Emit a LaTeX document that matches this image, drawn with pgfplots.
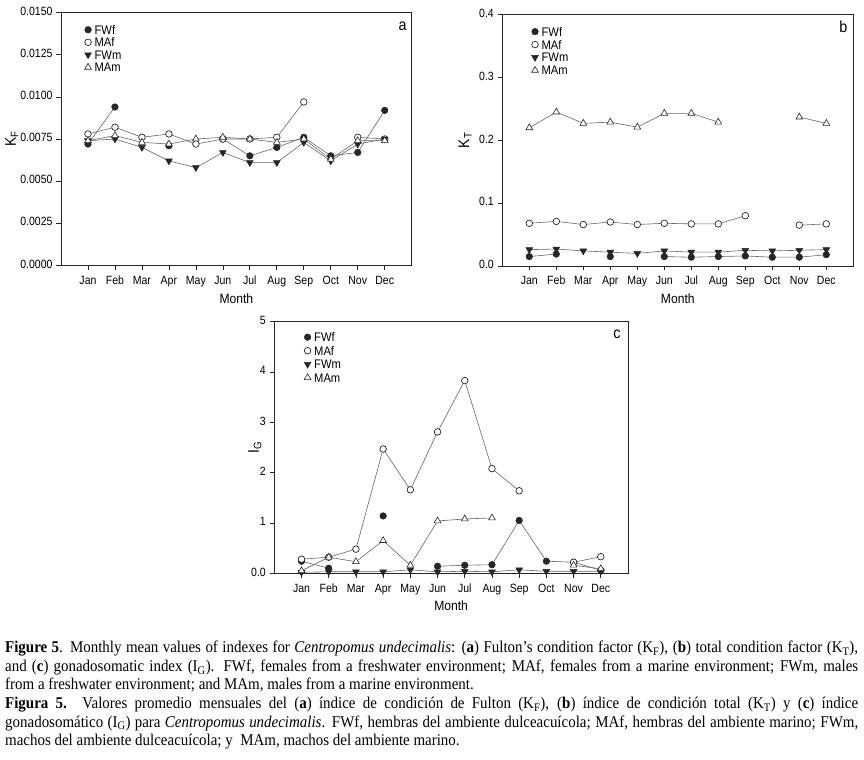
\documentclass[border=0pt]{standalone}
\usepackage{fontspec}
\setmainfont{Liberation Sans}
\newfontfamily\tickfamily{Liberation Sans}[FakeStretch=0.88]
\newfontfamily\labfamily{Liberation Sans}[FakeStretch=0.9]
\newfontfamily\capfamily{Liberation Serif}[FakeStretch=0.91]
\usepackage{pgfplots}
\pgfplotsset{compat=1.18}
\newcommand\tickfont{\tickfamily\fontsize{12}{14}\selectfont}
\newcommand\legfont{\labfamily\fontsize{12.5}{13}\selectfont}
\newcommand\labfont{\labfamily\fontsize{13.5}{15}\selectfont}
\newcommand\ylabfont{\labfamily\fontsize{15.5}{17}\selectfont}
\newcommand\panfont{\labfamily\fontsize{16}{18}\selectfont}
\pgfplotsset{
  panel/.style={
    scale only axis, anchor=south west,
    xmin=0, xmax=13,
    xtick={1,...,12},
    xticklabels={Jan,Feb,Mar,Apr,May,Jun,Jul,Aug,Sep,Oct,Nov,Dec},
    tick align=outside, tick pos=left,
    major tick length=4.5bp,
    axis line style={line width=0.8bp, black!85},
    tick style={line width=0.7bp, black!85},
    ticklabel style={font=\tickfont},
    typeset ticklabels with strut,
    xticklabel style={yshift=-1bp},
    yticklabel style={xshift=-0.5bp},
    unbounded coords=jump,
    xlabel={Month},
    xlabel style={font=\labfont, at={(axis description cs:0.5,0)}, anchor=center, yshift=-33bp},
    ylabel style={font=\ylabfont, anchor=center},
    legend cell align=left,
    legend style={draw=none, fill=none, anchor=north west, font=\legfont,
      row sep=0bp, inner sep=0bp,
      nodes={inner sep=1.2bp, text height=9.55bp, text depth=0.55bp},
      /tikz/every odd column/.append style={column sep=2bp}},
    legend image code/.code={\draw[##1,/tikz/only marks] plot coordinates {(0bp,0bp)};},
  },
  fwf/.style={draw=black!60, line width=0.6bp, mark=*, mark size=3.3bp,
    mark options={solid, fill=black!85, draw=black!85, line width=0.5bp}},
  maf/.style={draw=black!60, line width=0.6bp, mark=*, mark size=3.3bp,
    mark options={solid, fill=white, draw=black!85, line width=0.7bp}},
  fwm/.style={draw=black!60, line width=0.6bp, mark=triangle*, mark size=3.9bp,
    mark options={solid, rotate=180, fill=black!85, draw=black!85, line width=0.5bp}},
  mam/.style={draw=black!60, line width=0.6bp, mark=triangle*, mark size=3.9bp,
    mark options={solid, fill=white, draw=black!85, line width=0.6bp}},
}
\begin{document}
\begin{tikzpicture}[x=1bp,y=1bp]
\useasboundingbox (0bp,0bp) rectangle (864bp,760bp);

% ---------- panel a ----------
\begin{axis}[panel, at={(61bp,494.7bp)}, width=350.7bp, height=252.6bp,
  ymin=0, ymax=0.015,
  ytick={0,0.0025,0.005,0.0075,0.01,0.0125,0.015},
  yticklabels={0.0000,0.0025,0.0050,0.0075,0.0100,0.0125,0.0150},
  scaled y ticks=false,
  ylabel={K\textsubscript{F}},
  ylabel style={at={(axis description cs:-0.14,0.5)}},
  legend style={at={(axis description cs:0.067,0.958)}},
]
\addplot+[fwf] coordinates {(1,0.0072)(2,0.0094)(3,nan)(4,0.0071)(5,nan)(6,0.0075)(7,0.0065)(8,0.0070)(9,0.0076)(10,0.0065)(11,0.0067)(12,0.0092)};
\addplot+[maf] coordinates {(1,0.0078)(2,0.0082)(3,0.0076)(4,0.0078)(5,0.0072)(6,0.0075)(7,0.0075)(8,0.0076)(9,0.0097)(10,nan)(11,0.0076)(12,0.0075)};
\addplot+[fwm] coordinates {(1,0.0074)(2,0.0075)(3,0.0070)(4,0.0062)(5,0.0058)(6,0.0067)(7,0.0061)(8,0.0061)(9,0.0073)(10,0.0062)(11,0.0072)(12,0.0075)};
\addplot+[mam] coordinates {(1,0.0074)(2,0.0077)(3,0.0073)(4,0.0072)(5,0.0075)(6,0.0076)(7,0.0075)(8,0.0073)(9,0.0075)(10,0.0063)(11,0.0074)(12,0.0074)};
\legend{FWf,MAf,FWm,MAm}
\node[font=\panfont, anchor=center] at (rel axis cs:1,1) [xshift=-9bp, yshift=-14bp] {a};
\end{axis}

% ---------- panel b ----------
\begin{axis}[panel, at={(502.3bp,494bp)}, width=351bp, height=251.3bp,
  ymin=0, ymax=0.4,
  ytick={0,0.1,0.2,0.3,0.4},
  yticklabels={0.0,0.1,0.2,0.3,0.4},
  ylabel={K\textsubscript{T}},
  ylabel style={at={(axis description cs:-0.106,0.5)}},
  legend style={at={(axis description cs:0.083,0.959)}, nodes={text height=9.75bp, text depth=0.75bp}},
]
\addplot+[fwf] coordinates {(1,0.015)(2,0.019)(3,nan)(4,0.015)(5,nan)(6,0.015)(7,0.014)(8,0.015)(9,0.016)(10,0.014)(11,0.014)(12,0.018)};
\addplot+[maf] coordinates {(1,0.068)(2,0.071)(3,0.066)(4,0.070)(5,0.066)(6,0.068)(7,0.067)(8,0.067)(9,0.080)(10,nan)(11,0.065)(12,0.067)};
\addplot+[fwm] coordinates {(1,0.026)(2,0.027)(3,0.024)(4,0.022)(5,0.020)(6,0.024)(7,0.022)(8,0.022)(9,0.025)(10,0.024)(11,0.025)(12,0.026)};
\addplot+[mam] coordinates {(1,0.220)(2,0.245)(3,0.227)(4,0.229)(5,0.221)(6,0.243)(7,0.243)(8,0.229)(9,nan)(10,nan)(11,0.237)(12,0.227)};
\legend{FWf,MAf,FWm,MAm}
\node[font=\panfont, anchor=center] at (rel axis cs:1,1) [xshift=-10bp, yshift=-12bp] {b};
\end{axis}

% ---------- panel c ----------
\begin{axis}[panel, at={(274.3bp,186.7bp)}, width=353.7bp, height=251.6bp,
  ymin=0, ymax=5,
  ytick={0,1,2,3,4,5},
  yticklabels={0.0,1,2,3,4,5},
  ylabel={I\textsubscript{G}},
  ylabel style={at={(axis description cs:-0.055,0.5)}},
  xlabel style={yshift=1bp},
  legend style={at={(axis description cs:0.084,0.966)}, nodes={text height=10.05bp, text depth=1.05bp}},
]
\addplot+[fwf] coordinates {(1,0.24)(2,0.10)(3,nan)(4,1.14)(5,nan)(6,0.14)(7,0.16)(8,0.17)(9,1.05)(10,0.24)(11,0.22)(12,0.06)};
\addplot+[maf] coordinates {(1,0.28)(2,0.32)(3,0.48)(4,2.47)(5,1.66)(6,2.81)(7,3.83)(8,2.08)(9,1.64)(10,nan)(11,0.22)(12,0.33)};
\addplot+[fwm] coordinates {(1,0.02)(2,0.03)(3,0.03)(4,0.03)(5,0.07)(6,0.03)(7,0.04)(8,0.03)(9,0.07)(10,0.04)(11,0.04)(12,0.04)};
\addplot+[mam] coordinates {(1,0.05)(2,0.32)(3,0.23)(4,0.65)(5,0.16)(6,1.04)(7,1.08)(8,1.10)(9,nan)(10,nan)(11,0.16)(12,0.09)};
\legend{FWf,MAf,FWm,MAm}
\node[font=\panfont, anchor=center] at (rel axis cs:1,1) [xshift=-11bp, yshift=-13bp] {c};
\end{axis}

% ---------- caption ----------
\begin{scope}[every node/.style={anchor=base west, inner sep=0pt, font=\capfamily\fontsize{16.5}{18}\selectfont}]
\node at (5bp,107bp) {\makebox[853bp][s]{\textbf{Figure 5}. Monthly mean values of indexes for \textit{Centropomus undecimalis}: (\textbf{a}) Fulton’s condition factor (K\textsubscript{F}), (\textbf{b}) total condition factor (K\textsubscript{T}),}};
\node at (5bp,88.5bp) {\makebox[853bp][s]{and (\textbf{c}) gonadosomatic index (I\textsubscript{G}). FWf, females from a freshwater environment; MAf, females from a marine environment; FWm, males}};
\node at (5bp,70bp) {from a freshwater environment; and MAm, males from a marine environment.};
\node at (5bp,51.5bp) {\makebox[853bp][s]{\textbf{Figura 5.} Valores promedio mensuales del (\textbf{a}) índice de condición de Fulton (K\textsubscript{F}), (\textbf{b}) índice de condición total (K\textsubscript{T}) y (\textbf{c}) índice}};
\node at (5bp,33bp) {\makebox[853bp][s]{gonadosomático (I\textsubscript{G}) para \textit{Centropomus undecimalis}. FWf, hembras del ambiente dulceacuícola; MAf, hembras del ambiente marino; FWm,}};
\node at (5bp,14.5bp) {machos del ambiente dulceacuícola; y\ \ MAm, machos del ambiente marino.};
\end{scope}
\end{tikzpicture}
\end{document}
